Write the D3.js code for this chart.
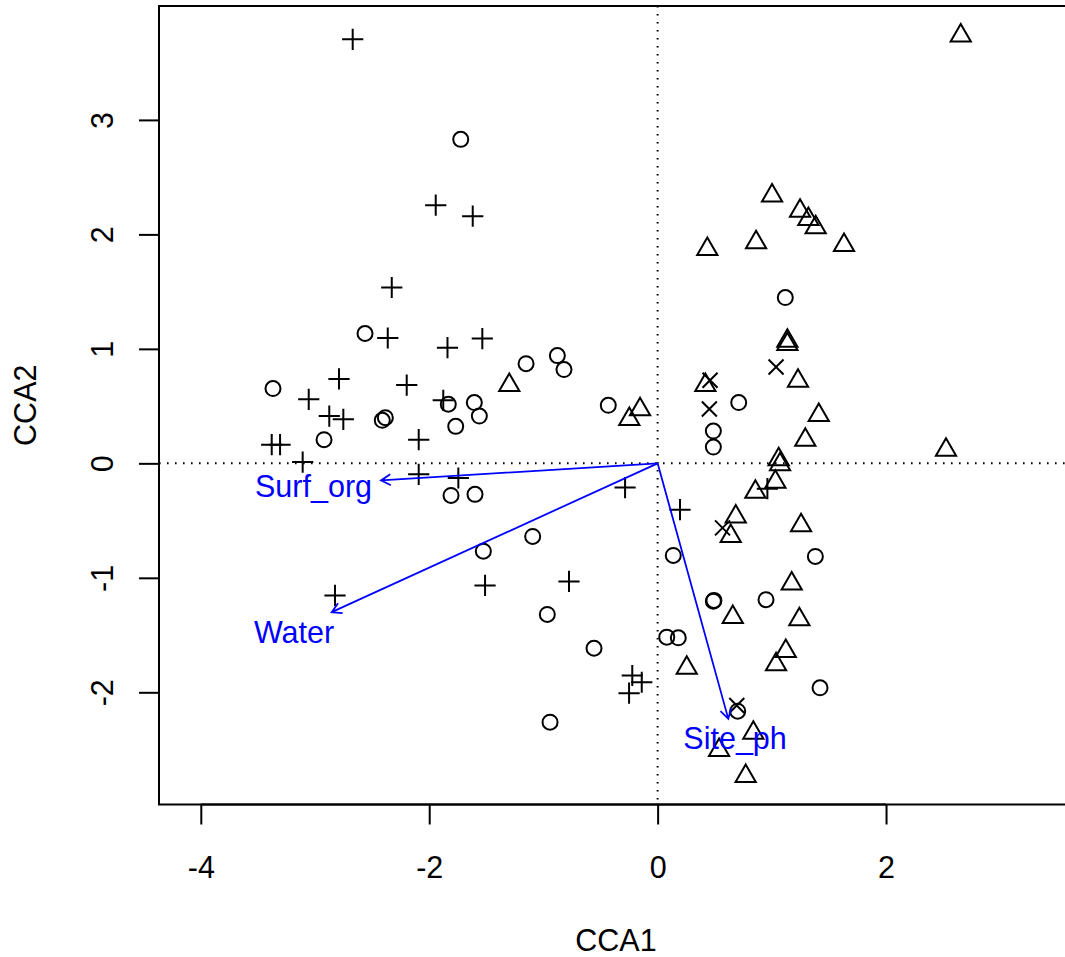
<!DOCTYPE html>
<html>
<head>
<meta charset="utf-8">
<title>CCA biplot</title>
<script src="https://cdn.jsdelivr.net/npm/d3@7"></script>
<style>
  body { margin: 0; background: #fff; }
  svg text { font-family: "Liberation Sans", Arial, Helvetica, sans-serif; }
</style>
</head>
<body>
<svg id="chart"></svg>
<script>
// site scores, one array per group (CCA1, CCA2)
var circles = [
  [-1.724, 2.830], [-2.562, 1.134], [-3.368, 0.653], [-2.411, 0.376], [-2.384, 0.399],
  [-1.833, 0.516], [-1.605, 0.531], [-1.561, 0.413], [-1.768, 0.323], [-2.921, 0.207],
  [-1.152, 0.871], [-0.878, 0.941], [-0.820, 0.819], [-0.432, 0.507], [-1.809, -0.280],
  [-1.599, -0.271], [-1.094, -0.638], [-1.526, -0.767], [-0.966, -1.320], [-0.557, -1.615],
  [-0.942, -2.261], [0.137, -0.804], [0.488, -1.204], [0.493, -1.197], [0.080, -1.518],
  [0.181, -1.524], [0.488, 0.282], [0.488, 0.142], [0.710, 0.531], [1.118, 1.448],
  [1.381, -0.813], [0.949, -1.191], [1.422, -1.961], [0.701, -2.165]
];
var pluses = [
  [-2.670, 3.704], [-1.943, 2.255], [-1.619, 2.159], [-2.328, 1.536], [-2.363, 1.095],
  [-1.840, 1.010], [-1.535, 1.090], [-2.790, 0.737], [-2.197, 0.684], [-3.055, 0.559],
  [-2.875, 0.413], [-2.752, 0.385], [-1.877, 0.551], [-3.379, 0.163], [-3.306, 0.163],
  [-3.108, 0.011], [-2.092, 0.207], [-2.092, -0.096], [-1.745, -0.128], [-0.285, -0.212],
  [0.196, -0.405], [-1.511, -1.066], [-0.776, -1.031], [-2.825, -1.154], [-0.222, -1.853],
  [-0.139, -1.912], [-0.250, -2.008], [0.961, -0.221]
];
var triangles = [
  [2.654, 3.735], [1.002, 2.338], [1.247, 2.206], [1.320, 2.133], [1.384, 2.060],
  [0.862, 1.929], [0.435, 1.871], [1.632, 1.906], [1.136, 1.070], [1.136, 1.040],
  [1.229, 0.720], [0.418, 0.682], [-1.299, 0.682], [-0.154, 0.472], [-0.248, 0.385],
  [1.411, 0.420], [1.293, 0.205], [2.525, 0.117], [1.060, 0.035], [1.072, -0.009],
  [1.031, -0.162], [0.856, -0.250], [0.684, -0.466], [0.640, -0.635], [1.256, -0.542],
  [1.174, -1.051], [0.658, -1.343], [1.241, -1.364], [1.122, -1.640], [1.037, -1.757],
  [0.255, -1.786], [0.838, -2.354], [0.538, -2.505], [0.771, -2.732]
];
var crosses = [
  [0.459, 0.726], [0.453, 0.475], [1.037, 0.842], [0.568, -0.564], [0.693, -2.115]
];

// environmental arrows
var envNames = ["Surf_org", "Water", "Site_ph"];
var envTips = [[-2.422, -0.149], [-2.854, -1.300], [0.619, -2.232]];
var envLabels = [[-3.013, -0.200], [-3.184, -1.480], [0.678, -2.400]];

var xTicks = [-4, -2, 0, 2];
var yTicks = [-2, -1, 0, 1, 2, 3];

var W = 1065, H = 957;
var pL = 159, pR = 1073, pT = 6, pB = 804.5;

var svg = d3.select("#chart").attr("width", W).attr("height", H);

var x = d3.scaleLinear().domain([-4.366, 3.637]).range([pL, pR]);
var y = d3.scaleLinear().domain([-2.98, 3.995]).range([pB, pT]);

// dotted origin lines
svg.append("line")
  .attr("x1", pL).attr("x2", pR).attr("y1", y(0)).attr("y2", y(0))
  .attr("stroke", "#000").attr("stroke-width", 2).attr("stroke-dasharray", "1.6,6.4");
svg.append("line")
  .attr("x1", x(0)).attr("x2", x(0)).attr("y1", pT).attr("y2", pB)
  .attr("stroke", "#000").attr("stroke-width", 2).attr("stroke-dasharray", "1.6,6.4");

var R = 7.5, lw = 2;
var g = svg.append("g").attr("fill", "none").attr("stroke", "#000").attr("stroke-width", lw);

g.selectAll("circle.pt").data(circles).enter().append("circle")
  .attr("class", "pt")
  .attr("cx", function(d) { return x(d[0]); })
  .attr("cy", function(d) { return y(d[1]); })
  .attr("r", R);

// R pch 2 triangle
var tr = 1.555 * R, txc = 1.347 * R, tyc = 0.778 * R;
g.selectAll("path.tri").data(triangles).enter().append("path")
  .attr("class", "tri")
  .attr("d", function(d) {
    var cx = x(d[0]), cy = y(d[1]);
    return "M" + cx + "," + (cy - tr) + "L" + (cx + txc) + "," + (cy + tyc) +
           "L" + (cx - txc) + "," + (cy + tyc) + "Z";
  });

var pc = 1.414 * R;
g.selectAll("path.plus").data(pluses).enter().append("path")
  .attr("class", "plus")
  .attr("d", function(d) {
    var cx = x(d[0]), cy = y(d[1]);
    return "M" + (cx - pc) + "," + cy + "H" + (cx + pc) + "M" + cx + "," + (cy - pc) + "V" + (cy + pc);
  });

g.selectAll("path.cross").data(crosses).enter().append("path")
  .attr("class", "cross")
  .attr("d", function(d) {
    var cx = x(d[0]), cy = y(d[1]);
    return "M" + (cx - R) + "," + (cy - R) + "L" + (cx + R) + "," + (cy + R) +
           "M" + (cx - R) + "," + (cy + R) + "L" + (cx + R) + "," + (cy - R);
  });

// biplot arrows
var ag = svg.append("g").attr("stroke", "#0000ff").attr("stroke-width", 1.8).attr("fill", "none");
envTips.forEach(function(t) {
  var x0 = x(0), y0 = y(0), x1 = x(t[0]), y1 = y(t[1]);
  var ang = Math.atan2(y1 - y0, x1 - x0), L = 11, a = Math.PI / 6;
  ag.append("path").attr("d",
    "M" + x0 + "," + y0 + "L" + x1 + "," + y1 +
    "M" + (x1 - L * Math.cos(ang - a)) + "," + (y1 - L * Math.sin(ang - a)) +
    "L" + x1 + "," + y1 +
    "L" + (x1 - L * Math.cos(ang + a)) + "," + (y1 - L * Math.sin(ang + a)));
});
svg.selectAll("text.env").data(envNames).enter().append("text")
  .attr("class", "env")
  .attr("x", function(d, i) { return x(envLabels[i][0]); })
  .attr("y", function(d, i) { return y(envLabels[i][1]); })
  .attr("dy", "0.35em")
  .attr("text-anchor", "middle")
  .attr("fill", "#0000ff")
  .style("font-size", "30.5px")
  .text(function(d) { return d; });

// box
svg.append("rect")
  .attr("x", pL).attr("y", pT).attr("width", pR - pL).attr("height", pB - pT)
  .attr("fill", "none").attr("stroke", "#000").attr("stroke-width", 2);

// axes, R style
var xAxis = svg.append("g").attr("transform", "translate(0," + pB + ")")
  .call(d3.axisBottom(x).tickValues(xTicks).tickSize(20)
        .tickFormat(function(d) { return String(d); }));
var yAxis = svg.append("g").attr("transform", "translate(" + pL + ",0)")
  .call(d3.axisLeft(y).tickValues(yTicks).tickSize(20)
        .tickFormat(function(d) { return String(d); }));

[xAxis, yAxis].forEach(function(ax) {
  ax.select(".domain").remove();
  ax.selectAll(".tick line").attr("stroke", "#000").attr("stroke-width", 2);
  ax.selectAll("text").attr("fill", "#000").style("font-size", "30.5px")
    .style("font-family", "'Liberation Sans', Arial, sans-serif");
});
xAxis.append("line").attr("x1", x(xTicks[0])).attr("x2", x(xTicks[xTicks.length - 1]))
  .attr("stroke", "#000").attr("stroke-width", 2);
yAxis.append("line").attr("y1", y(yTicks[0])).attr("y2", y(yTicks[yTicks.length - 1]))
  .attr("stroke", "#000").attr("stroke-width", 2);

xAxis.selectAll(".tick text").attr("y", 73).attr("dy", null);
yAxis.selectAll(".tick text")
  .attr("x", null).attr("dy", null).attr("text-anchor", "middle")
  .attr("transform", "translate(-46,0) rotate(-90)");

svg.append("text")
  .attr("x", (pL + pR) / 2).attr("y", 951)
  .attr("text-anchor", "middle").style("font-size", "30.5px").text("CCA1");
svg.append("text")
  .attr("transform", "translate(36," + (pT + pB) / 2 + ") rotate(-90)")
  .attr("text-anchor", "middle").style("font-size", "30.5px").text("CCA2");
</script>
</body>
</html>
